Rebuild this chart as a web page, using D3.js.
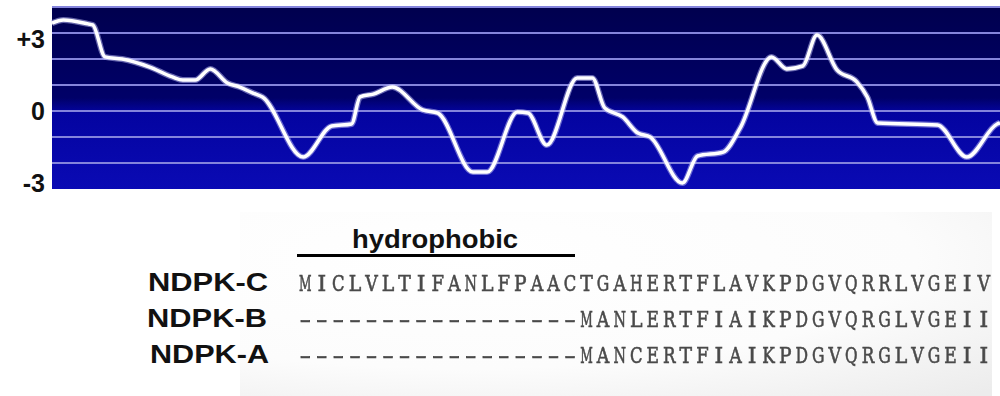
<!DOCTYPE html>
<html>
<head>
<meta charset="utf-8">
<script src="https://cdn.jsdelivr.net/npm/d3@7"></script>
<style>
  body { margin: 0; background: #fff; }
  svg { display: block; }
</style>
</head>
<body>
<div id="chart"></div>
<script>
// hydropathy profile, position along window (0-100) and score
var positions = [0, 1.2, 3.8, 4.3, 5.6, 7.4, 10.3, 12.7, 13.8, 15.1, 16.7, 18.5, 19.8, 21.2, 22.2,
  26.5, 29.5, 31.6, 32.5, 33.9, 35.9, 39.1, 40.7, 44.4, 45.9, 49.1, 50.2, 52.2, 55.4, 57.0,
  58.3, 60.2, 61.8, 63.1, 66.5, 68.1, 70.8, 72.6, 75.9, 77.5, 79.2, 80.7, 82.8, 84.9, 86.0,
  87.1, 93.4, 96.5, 99.7, 100];
var scores = [3.38, 3.5, 3.35, 3.31, 2.08, 2.0, 1.69, 1.31, 1.19, 1.19, 1.62, 1.08, 0.92, 0.69, 0.54,
  -1.77, -0.58, -0.5, 0.54, 0.65, 0.92, 0.04, -0.08, -2.35, -2.35, -0.04, -0.08, -1.31, 1.27, 1.27,
  0.12, -0.23, -0.85, -1.0, -2.77, -1.73, -1.58, -0.65, 2.08, 1.62, 1.73, 2.92, 1.58, 1.12, 0.54,
  -0.46, -0.54, -1.77, -0.5, -0.46];
var gridValues = [4, 3, 2, 1, 0, -1, -2];
var tickValues = [3, 0, -3];
var tickLabels = ["+3", "0", "-3"];

// alignment
var seqNames = ["NDPK-C", "NDPK-B", "NDPK-A"];
var sequences = [
  "MICLVLTIFANLFPAACTGAHERTFLAVKPDGVQRRLVGEIV",
  "-----------------MANLERTFIAIKPDGVQRGLVGEII",
  "-----------------MANCERTFIAIKPDGVQRGLVGEII"
];
var regionLabel = "hydrophobic";
var regionStart = 0, regionEnd = 16.8; // in residues

var width = 1000, height = 396;
var svg = d3.select("#chart").append("svg")
    .attr("width", width)
    .attr("height", height);

var defs = svg.append("defs");
var bg = defs.append("linearGradient").attr("id", "bg")
    .attr("x1", 0).attr("y1", 0).attr("x2", 0).attr("y2", 1);
bg.append("stop").attr("offset", "0%").attr("stop-color", "#00004e");
bg.append("stop").attr("offset", "50%").attr("stop-color", "#000068");
bg.append("stop").attr("offset", "58%").attr("stop-color", "#0404a0");
bg.append("stop").attr("offset", "100%").attr("stop-color", "#0a0ab4");

var panel = defs.append("radialGradient").attr("id", "panel")
    .attr("cx", 0.3).attr("cy", 0.25).attr("r", 1.0);
panel.append("stop").attr("offset", "0%").attr("stop-color", "#ffffff");
panel.append("stop").attr("offset", "60%").attr("stop-color", "#fcfcfc");
panel.append("stop").attr("offset", "100%").attr("stop-color", "#ececec");

defs.append("filter").attr("id", "soft")
  .append("feGaussianBlur").attr("stdDeviation", 0.6);

// plot
var x = d3.scaleLinear().domain([0, 100]).range([52, 1000]);
var y = d3.scaleLinear().domain([-3, 4]).range([189, 7]);

svg.append("rect")
    .attr("x", x(0)).attr("y", y(4))
    .attr("width", x(100) - x(0)).attr("height", y(-3) - y(4))
    .attr("fill", "url(#bg)");

svg.append("g").selectAll("line")
    .data(gridValues)
  .enter().append("line")
    .attr("x1", x(0)).attr("x2", x(100))
    .attr("y1", function(d) { return y(d); })
    .attr("y2", function(d) { return y(d); })
    .attr("stroke", "#8484dc")
    .attr("stroke-width", 2);

var pts = positions.map(function(p, i) { return [p, scores[i]]; });
var line = d3.line()
    .x(function(d) { return x(d[0]); })
    .y(function(d) { return y(d[1]); })
    .curve(d3.curveMonotoneX);

svg.append("path").datum(pts)
    .attr("d", line)
    .attr("fill", "none")
    .attr("stroke", "#b8b8f0")
    .attr("stroke-width", 6)
    .attr("stroke-opacity", 0.55)
    .attr("stroke-linejoin", "round");
svg.append("path").datum(pts)
    .attr("d", line)
    .attr("fill", "none")
    .attr("stroke", "#ffffff")
    .attr("stroke-width", 3.5)
    .attr("stroke-linejoin", "round");

svg.append("g").selectAll("text")
    .data(tickValues)
  .enter().append("text")
    .attr("x", 45)
    .attr("y", function(d) { return y(d) + (d > 0 ? 6 : d < 0 ? -6 : 0); })
    .attr("dy", "0.36em")
    .attr("text-anchor", "end")
    .style("font-family", "Liberation Sans, Arial, sans-serif")
    .style("font-weight", "bold")
    .style("font-size", "25px")
    .attr("fill", "#111")
    .text(function(d, i) { return tickLabels[i]; });

// alignment panel
svg.append("rect")
    .attr("x", 240).attr("y", 212)
    .attr("width", 752).attr("height", 184)
    .attr("fill", "url(#panel)");

var nChars = sequences[0].length;
var r = d3.scaleLinear().domain([0, nChars]).range([297, 992]);
var rowY = d3.scaleBand().domain(seqNames).range([264, 372]);
var cell = r(1) - r(0);

svg.append("line")
    .attr("x1", r(regionStart)).attr("x2", r(regionEnd))
    .attr("y1", 255.5).attr("y2", 255.5)
    .attr("stroke", "#000")
    .attr("stroke-width", 3);

svg.append("text")
    .attr("x", 352).attr("y", 248)
    .attr("textLength", 166)
    .attr("lengthAdjust", "spacingAndGlyphs")
    .style("font-family", "Liberation Sans, Arial, sans-serif")
    .style("font-weight", "bold")
    .style("font-size", "25px")
    .attr("fill", "#111")
    .text(regionLabel);

svg.append("g").selectAll("text")
    .data(seqNames)
  .enter().append("text")
    .attr("x", function(d, i) { return i === 1 ? 147 : i === 2 ? 150 : 148; })
    .attr("y", function(d) { return rowY(d) + rowY.bandwidth() / 2 + 9; })
    .attr("textLength", function(d, i) { return i === 2 ? 119 : 120; })
    .attr("lengthAdjust", "spacingAndGlyphs")
    .style("font-family", "Liberation Sans, Arial, sans-serif")
    .style("font-weight", "bold")
    .style("font-size", "26px")
    .attr("fill", "#111")
    .text(function(d) { return d; });

// one glyph per alignment column, slab-serif look
var rows = svg.append("g").attr("filter", "url(#soft)")
  .selectAll("g")
    .data(sequences)
  .enter().append("g");

var glyphs = rows.selectAll("text")
    .data(function(d, i) {
      return d.split("").map(function(c, j) { return {c: c, j: j, row: i}; });
    })
  .enter().append("text")
    .attr("x", 0).attr("y", 0)
    .attr("text-anchor", "middle")
    .style("font-family", "DejaVu Serif, Liberation Serif, serif")
    .style("font-size", "22px")
    .attr("fill", "#4a4a4a")
    .attr("stroke", "#4a4a4a")
    .attr("stroke-width", 0.6)
    .text(function(d) { return d.c; });

// squeeze or stretch each glyph into its column
glyphs.each(function(d) {
  var w = this.getComputedTextLength();
  var maxW = cell - 4;
  var target = d.c === "-" ? cell - 5 : Math.min(w, maxW);
  var sx = target / w;
  d3.select(this).attr("transform",
    "translate(" + r(d.j + 0.5) + "," + (rowY(seqNames[d.row]) + rowY.bandwidth() / 2 + 9) +
    ") scale(" + sx + ",1)");
});
</script>
</body>
</html>
